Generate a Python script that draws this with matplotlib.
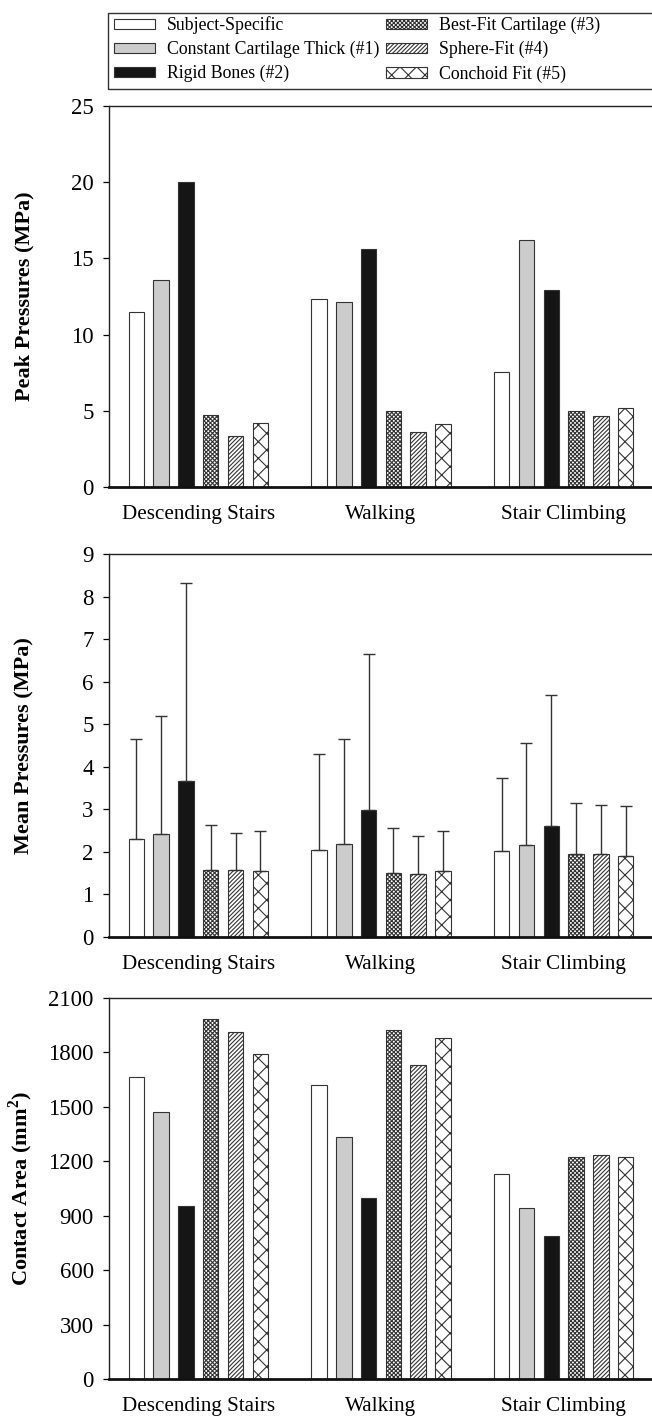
import matplotlib
matplotlib.use("Agg")
import matplotlib.pyplot as plt
import numpy as np
from matplotlib.patches import Patch, Rectangle

plt.rcParams["font.family"] = ["Liberation Serif", "DejaVu Serif"]
plt.rcParams["mathtext.fontset"] = "custom"
plt.rcParams["mathtext.rm"] = "Liberation Serif"
plt.rcParams["mathtext.bf"] = "Liberation Serif:bold"
plt.rcParams["hatch.linewidth"] = 0.8

categories = ["Descending Stairs", "Walking", "Stair Climbing"]
models = ["Subject-Specific", "Constant Cartilage Thick (#1)", "Rigid Bones (#2)",
          "Best-Fit Cartilage (#3)", "Sphere-Fit (#4)", "Conchoid Fit (#5)"]

# peak pressures (MPa), one list per model, over categories
peak_subject = [11.5, 12.34, 7.57]
peak_constant = [13.6, 12.14, 16.19]
peak_rigid = [20.0, 15.6, 12.95]
peak_bestfit = [4.75, 5.01, 4.99]
peak_sphere = [3.33, 3.59, 4.68]
peak_conchoid = [4.18, 4.14, 5.16]

# mean pressures (MPa) and upper SD
mean_subject = [2.30, 2.05, 2.03]
mean_constant = [2.42, 2.18, 2.17]
mean_rigid = [3.67, 2.99, 2.60]
mean_bestfit = [1.58, 1.51, 1.94]
mean_sphere = [1.57, 1.49, 1.96]
mean_conchoid = [1.55, 1.55, 1.91]
sd_subject = [2.36, 2.24, 1.70]
sd_constant = [2.78, 2.48, 2.39]
sd_rigid = [4.64, 3.66, 3.08]
sd_bestfit = [1.06, 1.05, 1.21]
sd_sphere = [0.88, 0.89, 1.15]
sd_conchoid = [0.93, 0.94, 1.17]

# contact area (mm2)
area_subject = [1667, 1623, 1132]
area_constant = [1469, 1333, 945]
area_rigid = [956, 1000, 789]
area_bestfit = [1983, 1923, 1222]
area_sphere = [1910, 1733, 1232]
area_conchoid = [1790, 1879, 1222]

peak = [peak_subject, peak_constant, peak_rigid, peak_bestfit, peak_sphere, peak_conchoid]
mean = [mean_subject, mean_constant, mean_rigid, mean_bestfit, mean_sphere, mean_conchoid]
sd = [sd_subject, sd_constant, sd_rigid, sd_bestfit, sd_sphere, sd_conchoid]
area = [area_subject, area_constant, area_rigid, area_bestfit, area_sphere, area_conchoid]

fills = ["white", "#cccccc", "#151515", "white", "white", "white"]
hatches = [None, None, None, "xxxxxxxx", "////////", "xx"]
edge = "#333333"

W, H = 652, 1417
fig = plt.figure(figsize=(W / 100, H / 100), dpi=100)

def box(top, bot, left=109, right=652):
    return [left / W, 1 - bot / H, (right - left) / W, (bot - top) / H]

x = np.arange(len(categories))
step = 0.1357
bw = 0.085

def panel(rect, data, ylim, yticks, ylabel, err=None):
    ax = fig.add_axes(rect)
    for i, vals in enumerate(data):
        pos = x + (i - 2.5) * step
        ax.bar(pos, vals, width=bw, color=fills[i], edgecolor=edge, linewidth=0.8,
               hatch=hatches[i], zorder=2)
        if err is not None:
            ax.errorbar(pos, vals, yerr=[np.zeros(len(vals)), err[i]], fmt="none",
                        ecolor=edge, elinewidth=1.0, capsize=4.5, capthick=1.0, zorder=3)
    ax.set_xlim(-0.489, 2.4835)
    ax.set_ylim(*ylim)
    ax.set_yticks(yticks)
    ax.set_xticks(x)
    ax.set_xticklabels(categories, fontsize=15.2)
    ax.tick_params(axis="x", length=0, pad=13)
    ax.tick_params(axis="y", direction="out", length=4, width=0.9, labelsize=16.5, pad=7)
    ax.spines["right"].set_visible(False)
    for s in ("top", "left"):
        ax.spines[s].set_linewidth(1.0)
        ax.spines[s].set_color("#222222")
    ax.spines["bottom"].set_linewidth(2.0)
    ax.spines["bottom"].set_color("#111111")
    ax.set_ylabel(ylabel, fontsize=16, fontweight="bold")
    ax.yaxis.set_label_coords(-0.137, 0.5)
    return ax

panel(box(106, 487), peak, (0, 25), range(0, 26, 5), "Peak Pressures (MPa)")
panel(box(554, 937), mean, (0, 9), range(0, 10), "Mean Pressures (MPa)", err=sd)
panel(box(998, 1379), area, (0, 2100), range(0, 2101, 300), r"Contact Area (mm$^\mathbf{2}$)")

handles = [Patch(facecolor=fills[i], edgecolor=edge, linewidth=0.8, hatch=hatches[i])
           for i in range(len(models))]
fig.legend(handles, models, loc="upper left", bbox_to_anchor=(102 / W, 1 - 4 / H),
           ncol=2, frameon=False, fontsize=12.8, handlelength=2.3, handleheight=0.55,
           handletextpad=0.65, columnspacing=0.4, labelspacing=0.38, borderpad=0.2)
fig.patches.append(Rectangle((108 / W, 1 - 89 / H), (660 - 108) / W, 76 / H,
                             transform=fig.transFigure, fill=False, edgecolor="#333333",
                             linewidth=1.0))

fig.savefig("out.png", dpi=100)
